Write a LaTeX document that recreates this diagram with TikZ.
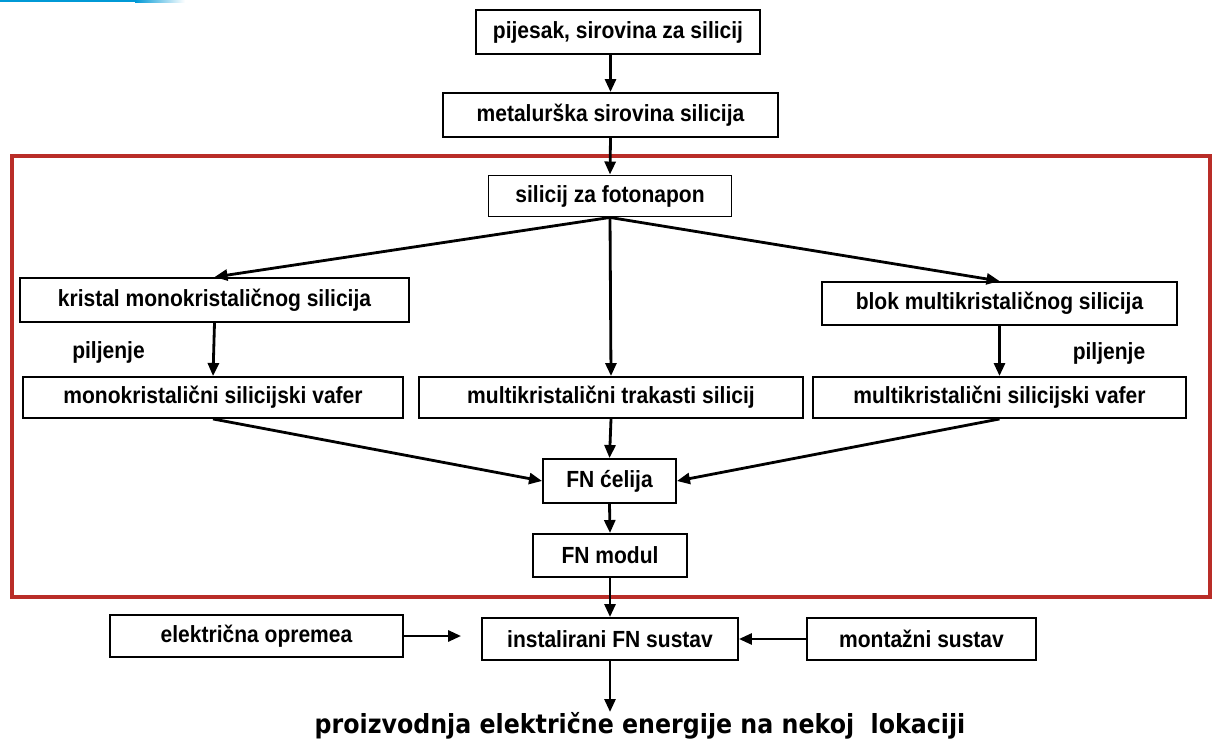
\documentclass[tikz,border=0pt]{standalone}
\usepackage{fontspec}
\setmainfont{Liberation Sans}[FakeStretch=0.9]
\newfontfamily\resultfont{DejaVu Sans}[FakeStretch=0.9]
\usepackage{tikz}
\usetikzlibrary{arrows.meta, calc}

\definecolor{framered}{RGB}{185,45,40}
\definecolor{slideblue}{RGB}{0,153,214}

\begin{document}
\begin{tikzpicture}[x=0.02cm, y=-0.02cm,
		stage/.style={draw, line width=1.1pt, inner sep=0pt, minimum height=0.84cm, font=\fontsize{13.3}{15}\selectfont\bfseries},
		flow/.style={line width=1.6pt, -{Triangle[length=2.6mm, width=2.2mm]}},
		cutlabel/.style={font=\fontsize{13.3}{15}\selectfont\bfseries}]
			\useasboundingbox (0, 0) rectangle (1213, 742);
			
			\fill[slideblue] (0, 0) rectangle (135, 2.5);
			\shade[left color=slideblue, right color=white] (135, 0) rectangle (185, 2.5);
			
			\draw[color=framered, line width=2pt] (12, 156) rectangle (1210, 597);
			
			\node[stage, minimum width=5.68cm, minimum height=0.88cm] (sand) at (618, 32) {pijesak, sirovina za silicij};
			\node[stage, minimum width=6.7cm, minimum height=0.88cm] (metal) at (610.5, 115) {metalurška sirovina silicija};
			\node[stage, minimum width=4.86cm, minimum height=0.82cm] (pvsi) at (610, 196) {silicij za fotonapon};
			
			\node[stage, minimum width=7.78cm, minimum height=0.88cm] (monocrystal) at (214.5, 300) {kristal monokristaličnog silicija};
			\node[stage, minimum width=7.6cm, minimum height=0.82cm] (monowafer) at (213, 397.5) {monokristalični silicijski vafer};
			\node[stage, minimum width=7.68cm, minimum height=0.82cm] (ribbon) at (611, 397.5) {multikristalični trakasti silicij};
			\node[stage, minimum width=7.1cm, minimum height=0.86cm] (multiblock) at (999.5, 303.5) {blok multikristaličnog silicija};
			\node[stage, minimum width=7.46cm, minimum height=0.82cm] (multiwafer) at (999.5, 397.5) {multikristalični silicijski vafer};
			
			\node[cutlabel] (sawleft) at (108.5, 352) {piljenje};
			\node[cutlabel] (sawright) at (1109, 353) {piljenje};
			
			\node[stage, minimum width=2.66cm, minimum height=0.88cm] (cell) at (609.5, 481) {FN ćelija};
			\node[stage, minimum width=3.08cm, minimum height=0.86cm] (module) at (610, 555.5) {FN modul};
			
			\node[stage, minimum width=5.86cm] (electric) at (256.5, 636) {električna opremea};
			\node[stage, minimum width=5.12cm] (system) at (610, 639) {instalirani FN sustav};
			\node[stage, minimum width=4.58cm] (mounting) at (921.5, 639) {montažni sustav};
			
			\coordinate (out) at (610, 712);
			\node[font=\resultfont\fontsize{15}{17}\selectfont\bfseries] (result) at (640, 726) {proizvodnja električne energije na nekoj\ \ lokaciji};
			
			\draw[flow] (sand.south -| metal.north) -- (metal.north);
			\draw[flow] (metal.south) -- (pvsi.north);
			\draw[flow] (pvsi.south) -- (monocrystal.north);
			\draw[flow] (pvsi.south) -- (ribbon.north);
			\draw[flow] (pvsi.south) -- (multiblock.north);
			\draw[flow] (monocrystal.south) -- (monowafer.north);
			\draw[flow] (multiblock.south) -- (multiwafer.north);
			\draw[flow] (monowafer.south) -- (cell.west);
			\draw[flow] (ribbon.south) -- (cell.north);
			\draw[flow] (multiwafer.south) -- (cell.east);
			\draw[flow] (cell.south) -- (module.north);
			\draw[flow] (module.south) -- (system.north);
			\draw[flow, shorten >=0.4cm] (electric.east) -- (electric.east -| system.west);
			\draw[flow] (mounting.west) -- (system.east);
			\draw[flow] (system.south) -- (out);
			
		\end{tikzpicture}
\end{document}
